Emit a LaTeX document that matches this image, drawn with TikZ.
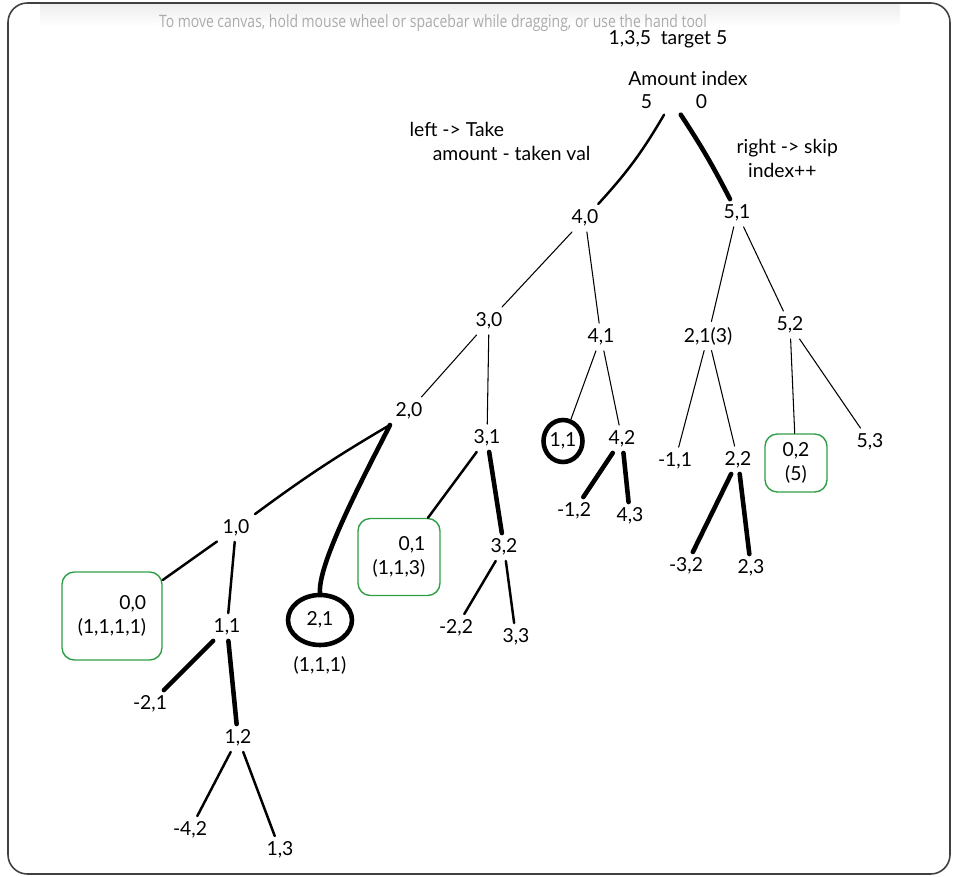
\documentclass[tikz,border=0pt]{standalone}
\usepackage{fontspec}
\setmainfont{Lato}
\newfontfamily\tipfont[FakeStretch=0.82]{Open Sans}
\usepackage{tikz}
\usetikzlibrary{positioning,shapes.geometric}
\definecolor{boxgreen}{HTML}{2F9E44}
\definecolor{tipgray}{HTML}{ABABAB}

\begin{document}
\begin{tikzpicture}[x=0.02cm,y=-0.02cm, every node/.style={font=\fontsize{11}{13.5}\selectfont,align=center,inner sep=3pt},
  thin edge/.style={line width=0.6pt,line cap=round},
  mid edge/.style={line width=1.4pt,line cap=round},
  thick edge/.style={line width=2.6pt,line cap=round},
  donebox/.style={draw=boxgreen,rounded corners=7pt,line width=0.8pt},
  ring/.style={draw,ellipse,line width=2.6pt,inner sep=0pt}]
\useasboundingbox (0,0) rectangle (957,876);
\shade[top color=black!7,bottom color=white] (40,4) rectangle (900,26);
\draw[black!75,line width=0.9pt,rounded corners=11pt] (8,3) rectangle (950,874);
\node[font=\tipfont\fontsize{9.7}{11}\selectfont,text=tipgray] (tip) at (433,23) {To move canvas, hold mouse wheel or spacebar while dragging, or use the hand tool};

% header and notes
\node (list) at (668,39) {1,3,5\enspace target 5};
\node (hdr) at (688,78) {Amount index};
\node (root) at (674,102) {5\qquad\ 0};
\node[anchor=north west,align=left] (lnote) at (404,117) {left -> Take\\\hspace*{1.2em}amount - taken val};
\node[anchor=north west,align=left] (rnote) at (731,134) {right -> skip\\\hspace*{0.6em}index++};

% tree
\node (n40) at (585,218) {4,0};
\node (n51) at (737,213) {5,1};
\node (n30) at (489,321) {3,0};
\node (n41) at (601,337) {4,1};
\node (n21c) at (708,336) {2,1(3)};
\node (n52) at (790,325) {5,2};
\node (n20) at (409,411) {2,0};
\node (n31) at (487,438) {3,1};
\node[ring,minimum width=0.78cm,minimum height=0.84cm] (n11r) at (563,441) {1,1};
\node (n42) at (622,439) {4,2};
\node (nm11) at (675,461) {-1,1};
\node (n22) at (738,460) {2,2};
\node[donebox,minimum width=1.24cm,minimum height=1.16cm] (n02) at (796,463) {0,2\\(5)};
\node (n53) at (870,442) {5,3};
\node (n10) at (236,528) {1,0};
\node[ring,minimum width=1.28cm,minimum height=1cm] (n21r) at (320,620) {2,1};
\node[below=2pt of n21r] (n21s) {(1,1,1)};
\node[donebox,align=right,minimum width=1.64cm,minimum height=1.54cm] (n01) at (399,557) {0,1\\(1,1,3)};
\node (n32) at (504,547) {3,2};
\node (nm12) at (574,511) {-1,2};
\node (n43) at (630,516) {4,3};
\node (nm32) at (686,566) {-3,2};
\node (n23) at (751,568) {2,3};
\node (nm22) at (456,628) {-2,2};
\node (n33) at (516,637) {3,3};
\node[donebox,align=right,minimum width=2cm,minimum height=1.76cm] (n00) at (112,616) {0,0\\(1,1,1,1)};
\node (n11) at (227,627) {1,1};
\node (nm21) at (150,704) {-2,1};
\node (n12) at (238,738) {1,2};
\node (nm42) at (190,830) {-4,2};
\node (n13) at (280,850) {1,3};

% edges
\draw[mid edge] (root.-128) to[bend left=6] (n40);
\draw[thick edge] (root.-62) to[bend left=3] (n51);
\foreach \a/\b in {n40/n30,n40/n41,n51/n21c,n51/n52,n30/n20,n30/n31,n41/n11r,n41/n42,n21c/nm11,n21c/n22,n52/n02,n52/n53}
  \draw[thin edge] (\a)--(\b);
\foreach \a/\b in {n31/n01,n32/nm22,n32/n33,n10/n00,n10/n11,n12/nm42,n12/n13}
  \draw[mid edge] (\a)--(\b);
\foreach \a/\b in {n31/n32,n42/nm12,n42/n43,n22/nm32,n22/n23,n11/nm21,n11/n12}
  \draw[thick edge] (\a)--(\b);
\draw[mid edge] (n20.south west) to[bend right=3] (n10.north east);
\draw[thick edge] (n20.south west) to[out=-116,in=95,looseness=0.45] (n21r.north);
\end{tikzpicture}
\end{document}
